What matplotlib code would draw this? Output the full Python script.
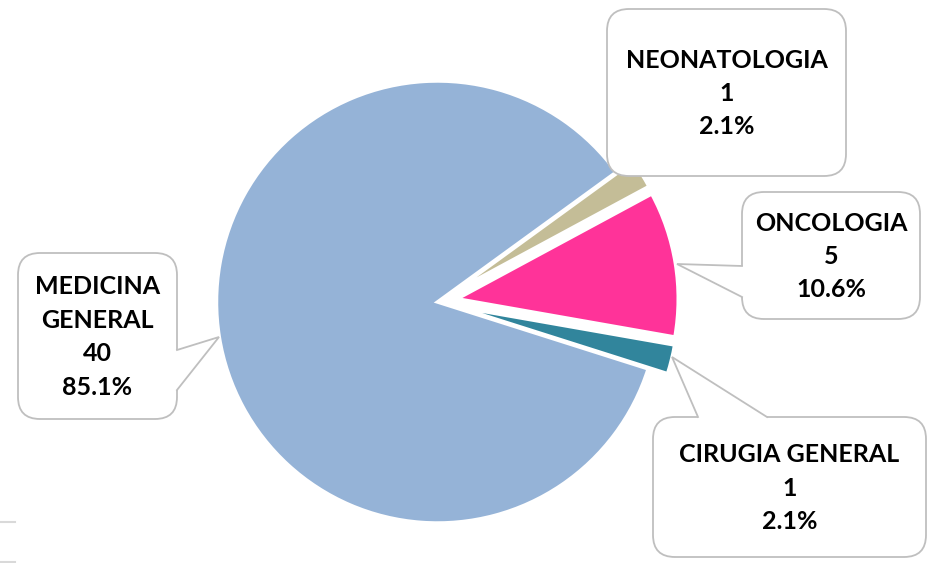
import textwrap
import matplotlib
matplotlib.use("Agg")
import matplotlib.pyplot as plt
from matplotlib.patches import FancyBboxPatch, Polygon
from matplotlib.lines import Line2D

# ---- data (pie order: clockwise from the top-right gap) ----
categories = ["NEONATOLOGIA", "ONCOLOGIA", "CIRUGIA GENERAL", "MEDICINA GENERAL"]
values = [1, 5, 1, 40]
colors = ["#C4BD97", "#FF3399", "#31859C", "#95B3D7"]
explode = [20, 20, 20, 0]

W, H = 935, 563
fig = plt.figure(figsize=(W / 100, H / 100), dpi=100)
ax = fig.add_axes([0, 0, 1, 1])


def Y(y):
    return H - y


cx, cy, R = 437.5, 302, 221
ax.pie(values, colors=colors, explode=explode, startangle=36, counterclock=False,
       radius=R, center=(cx, Y(cy)),
       wedgeprops=dict(edgecolor="white", linewidth=2.5))

ax.set_xlim(0, W)
ax.set_ylim(0, H)
ax.set_aspect("equal")
ax.set_axis_off()

edge = "#BFBFBF"
total = sum(values)

# callout layouts (pixel coords, y down): box x0,y0,x1,y1, pointer base1, tip, base2, wrap width
layout = {
    "NEONATOLOGIA": dict(box=(607, 9, 846, 176), ptr=None, wrap=40),
    "ONCOLOGIA": dict(box=(742, 192, 920, 319), ptr=((742, 266), (677, 264), (742, 297)), wrap=40),
    "CIRUGIA GENERAL": dict(box=(653, 417, 926, 557), ptr=((698, 417), (672, 357), (767, 417)), wrap=40),
    "MEDICINA GENERAL": dict(box=(18, 253, 177, 419), ptr=((177, 350), (219, 337), (177, 390)), wrap=9),
}


def callout(box, ptr, text):
    x0, y0, x1, y1 = box
    rs = 22
    p = FancyBboxPatch((x0, Y(y1)), x1 - x0, y1 - y0,
                       boxstyle=f"round,pad=0,rounding_size={rs}",
                       facecolor="white", edgecolor=edge, linewidth=1.3, zorder=5)
    ax.add_patch(p)
    if ptr is not None:
        b1, tip, b2 = ptr
        if b1[0] == b2[0]:  # vertical edge
            dx = 3 if b1[0] == x0 else -3
            inner = [(b1[0] + dx, b1[1]), (b2[0] + dx, b2[1])]
        else:
            dy = 3 if b1[1] == y0 else -3
            inner = [(b1[0], b1[1] + dy), (b2[0], b2[1] + dy)]
        pts = [b1, tip, b2, inner[1], inner[0]]
        ax.add_patch(Polygon([(px, Y(py)) for px, py in pts], closed=True,
                             facecolor="white", edgecolor="none", zorder=6))
        ax.add_line(Line2D([b1[0], tip[0], b2[0]], [Y(b1[1]), Y(tip[1]), Y(b2[1])],
                           color=edge, linewidth=1.3, zorder=7, solid_joinstyle="miter"))
    ax.text((x0 + x1) / 2, Y((y0 + y1) / 2 + 1), text, ha="center", va="center",
            fontsize=18, fontweight="bold", family="Lato", color="black",
            linespacing=1.55, zorder=8)


for cat, val in zip(categories, values):
    L = layout[cat]
    name = textwrap.fill(cat, L["wrap"])
    txt = f"{name}\n{val}\n{val / total * 100:.1f}%"
    callout(L["box"], L["ptr"], txt)

# faint gridline stubs at bottom-left
for yy in (521.7, 561.5):
    ax.add_line(Line2D([0, 15], [Y(yy), Y(yy)], color="#D9D9D9", linewidth=1.5))

fig.savefig("out.png", dpi=100)
